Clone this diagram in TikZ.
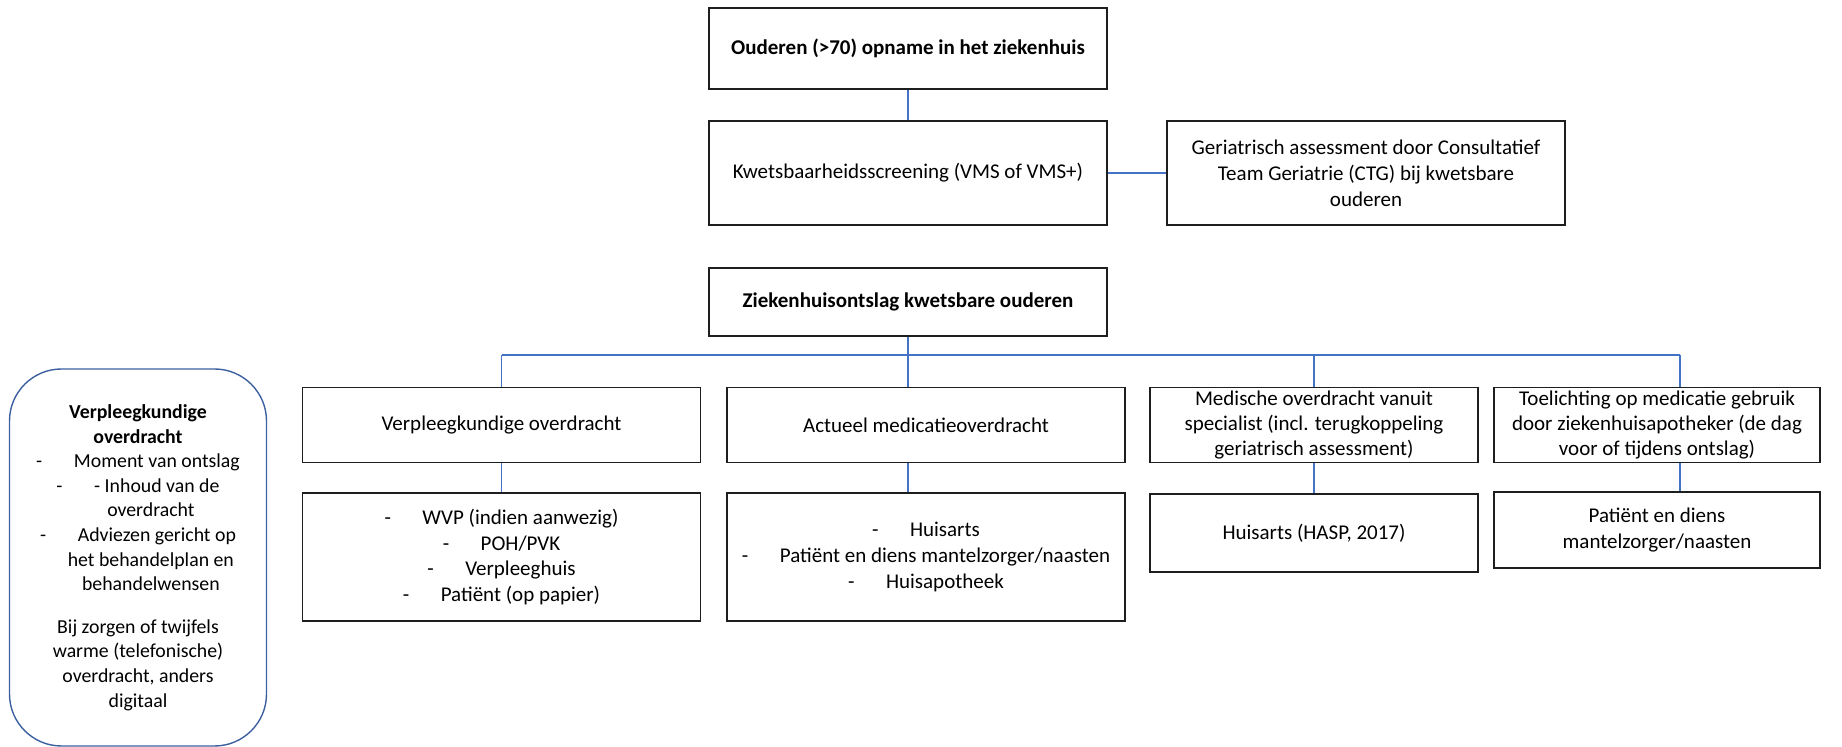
\documentclass[tikz,border=0pt]{standalone}
\usepackage{fontspec}
\setmainfont{Carlito}
\usetikzlibrary{positioning,calc}
\definecolor{lijnblauw}{RGB}{68,114,196}
\definecolor{kaderblauw}{RGB}{60,95,160}
\definecolor{randgrijs}{RGB}{30,30,30}
\tikzset{
  blok/.style={draw=randgrijs, fill=white, line width=0.8pt, align=center,
    font=\fontsize{10.5}{12.9}\selectfont, inner sep=2pt, minimum width=#1,
    minimum height=37.5pt},
  blok/.default=199pt,
  kop/.style={blok=#1, font=\fontsize{10.5}{12.9}\selectfont\bfseries},
  kop/.default=199pt,
  notitie/.style={draw=kaderblauw, rounded corners=26pt, line width=0.7pt, align=center,
    font=\fontsize{9.9}{12.3}\selectfont, minimum width=128.5pt, minimum height=188.5pt},
  lijn/.style={draw=lijnblauw, line width=0.6pt},
}
\begin{document}
\begin{tikzpicture}[x=0.5pt, y=-0.5pt]
        \useasboundingbox (0,0) rectangle (1842,747);
        % opname en screening
        \node[kop, minimum height=40.5pt] (opname) at (908,48.5) {Ouderen (>70) opname in het ziekenhuis};
        \node[blok, minimum height=52pt] (screening) at (908,173) {Kwetsbaarheidsscreening (VMS of VMS+)};
        \node[blok, minimum height=52pt] (assessment) at (1366,173)
          {Geriatrisch assessment door Consultatief\\ Team Geriatrie (CTG) bij kwetsbare\\ ouderen};
        \node[kop, minimum height=34pt] (ontslag) at (908,302) {Ziekenhuisontslag kwetsbare ouderen};
        % overdrachten
        \node[blok] (verpleeg) at (501.5,425) {Verpleegkundige overdracht};
        \node[blok] (medicatie) at (926,425) {Actueel medicatieoverdracht};
        \node[blok=164pt, inner ysep=0pt, font=\fontsize{10.5}{12.4}\selectfont] (medisch) at (1314,425)
          {Medische overdracht vanuit\\ specialist (incl. terugkoppeling\\ geriatrisch assessment)};
        \node[blok=163pt, inner ysep=0pt, font=\fontsize{10.5}{12.4}\selectfont] (toelichting) at (1657,425)
          {Toelichting op medicatie gebruik\\ door ziekenhuisapotheker (de dag\\ voor of tijdens ontslag)};
        % ontvangers
        \node[blok, minimum height=64pt] (ontvangers) at (501.5,557)
          {-\hspace{1.5em}WVP (indien aanwezig)\\ -\hspace{1.5em}POH/PVK\\ -\hspace{1.5em}Verpleeghuis\\ -\hspace{1.5em}Patiënt (op papier)};
        \node[blok, minimum height=64pt] (apotheek) at (926,557)
          {-\hspace{1.5em}Huisarts\\ -\hspace{1.5em}Patiënt en diens mantelzorger/naasten\\ -\hspace{1.5em}Huisapotheek};
        \node[blok=164pt, minimum height=38.75pt] (huisarts) at (1314,533) {Huisarts (HASP, 2017)};
        \node[blok=163pt, minimum height=38.25pt] (patient) at (1657,530) {Patiënt en diens\\ mantelzorger/naasten};
        % kader links
        \node[notitie] (kader) at (138,557.5)
          {\textbf{Verpleegkundige}\\ \textbf{overdracht}\\
           -\hspace{1.6em}Moment van ontslag\\ -\hspace{1.6em}- Inhoud van de\\ \hspace{1.3em}overdracht\\
           -\hspace{1.6em}Adviezen gericht op\\ \hspace{1.3em}het behandelplan en\\ \hspace{1.3em}behandelwensen\\[9pt]
           Bij zorgen of twijfels\\ warme (telefonische)\\ overdracht, anders\\ digitaal};
        % verbindingen
        \coordinate (busL) at (501.6,355);
        \coordinate (busR) at (1680,355);
        \draw[lijn] (opname) -- (screening);
        \draw[lijn] (screening) -- (assessment);
        \draw[lijn] (ontslag.south) -- (ontslag.south |- busL);
        \draw[lijn] (busL) -- (busR);
        \draw[lijn] (busL) -- (busL |- verpleeg.north);
        \draw[lijn] (ontslag.south |- busL) -- (ontslag.south |- medicatie.north);
        \draw[lijn] (medisch.north |- busL) -- (medisch.north);
        \draw[lijn] (busR) -- (busR |- toelichting.north);
        \draw[lijn] (verpleeg) -- (ontvangers);
        \draw[lijn] (ontslag.south |- medicatie.south) -- (ontslag.south |- apotheek.north);
        \draw[lijn] (medisch) -- (huisarts);
        \draw[lijn] (busR |- toelichting.south) -- (busR |- patient.north);
\end{tikzpicture}
\end{document}
